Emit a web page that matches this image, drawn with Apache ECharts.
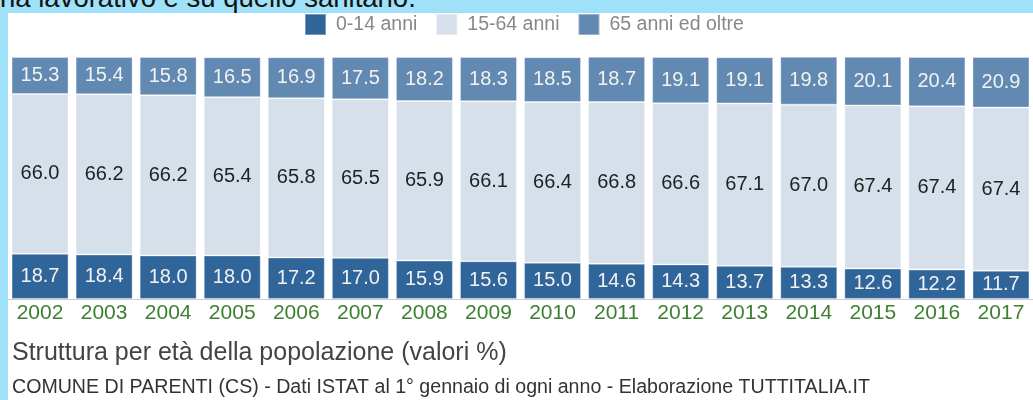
<!DOCTYPE html>
<html>
<head>
<meta charset="utf-8">
<script src="https://cdn.jsdelivr.net/npm/echarts@6/dist/echarts.min.js"></script>
<style>
  html, body { margin: 0; padding: 0; }
  body { width: 1033px; height: 400px; background: #9fe1f8; position: relative; overflow: hidden;
         font-family: "Liberation Sans", Arial, sans-serif; }
  .intro { position: absolute; left: 0; top: -18px; font-size: 27.5px; color: #111; white-space: nowrap; }
  #chart { position: absolute; left: 8px; top: 13px; width: 1025px; height: 387px; background: #fff; }
</style>
</head>
<body>
<div class="intro">na lavorativo e su quello sanitario.</div>
<div id="chart"></div>
<script>
var years = ['2002', '2003', '2004', '2005', '2006', '2007', '2008', '2009',
             '2010', '2011', '2012', '2013', '2014', '2015', '2016', '2017'];
var age0_14 = [18.7, 18.4, 18.0, 18.0, 17.2, 17.0, 15.9, 15.6, 15.0, 14.6, 14.3, 13.7, 13.3, 12.6, 12.2, 11.7];
var age15_64 = [66.0, 66.2, 66.2, 65.4, 65.8, 65.5, 65.9, 66.1, 66.4, 66.8, 66.6, 67.1, 67.0, 67.4, 67.4, 67.4];
var age65 = [15.3, 15.4, 15.8, 16.5, 16.9, 17.5, 18.2, 18.3, 18.5, 18.7, 19.1, 19.1, 19.8, 20.1, 20.4, 20.9];

var font = '"Liberation Sans", Arial, sans-serif';
var myChart = echarts.init(document.getElementById('chart'));

// una serie impilata per fascia d'età
function fascia(name, data, color, labelColor) {
  return {
    name: name,
    type: 'bar',
    stack: 'eta',
    data: data,
    barWidth: 57,
    itemStyle: { color: color, borderColor: 'rgba(255,255,255,0.35)', borderWidth: 1 },
    label: {
      show: true,
      position: 'inside',
      color: labelColor,
      fontSize: 20,
      fontFamily: font,
      formatter: function (p) { return p.value.toFixed(1); }
    },
    emphasis: { disabled: true }
  };
}

var option = {
  animation: false,
  legend: {
    left: 296,
    top: 0,
    padding: 0,
    itemWidth: 21,
    itemHeight: 21,
    itemGap: 18,
    icon: 'rect',
    textStyle: { color: '#888', fontSize: 19.5, fontFamily: font, padding: [0, 0, 0, 5] },
    data: ['0-14 anni', '15-64 anni', '65 anni ed oltre']
  },
  grid: { left: 0, top: 44, width: 1028, height: 242, containLabel: false },
  xAxis: {
    type: 'category',
    data: years,
    axisLine: { show: true, lineStyle: { color: '#ccc', width: 1 } },
    axisTick: { show: false },
    axisLabel: { color: '#3f7f33', fontSize: 21, fontFamily: font, margin: 4, interval: 0 }
  },
  yAxis: {
    type: 'value',
    min: 0,
    max: 100,
    show: false
  },
  series: [
    fascia('0-14 anni', age0_14, '#30659a', '#f2f2f2'),
    fascia('15-64 anni', age15_64, '#d6e0ea', '#222'),
    fascia('65 anni ed oltre', age65, '#6289b1', '#f2f2f2')
  ],
  graphic: [
    {
      type: 'text', left: 4, top: 328,
      style: { text: 'Struttura per età della popolazione (valori %)', fill: '#444', fontSize: 25, fontFamily: font }
    },
    {
      type: 'text', left: 4, top: 365,
      style: { text: 'COMUNE DI PARENTI (CS) - Dati ISTAT al 1° gennaio di ogni anno - Elaborazione TUTTITALIA.IT', fill: '#333', fontSize: 19.6, fontFamily: font }
    }
  ]
};

myChart.setOption(option);
</script>
</body>
</html>
